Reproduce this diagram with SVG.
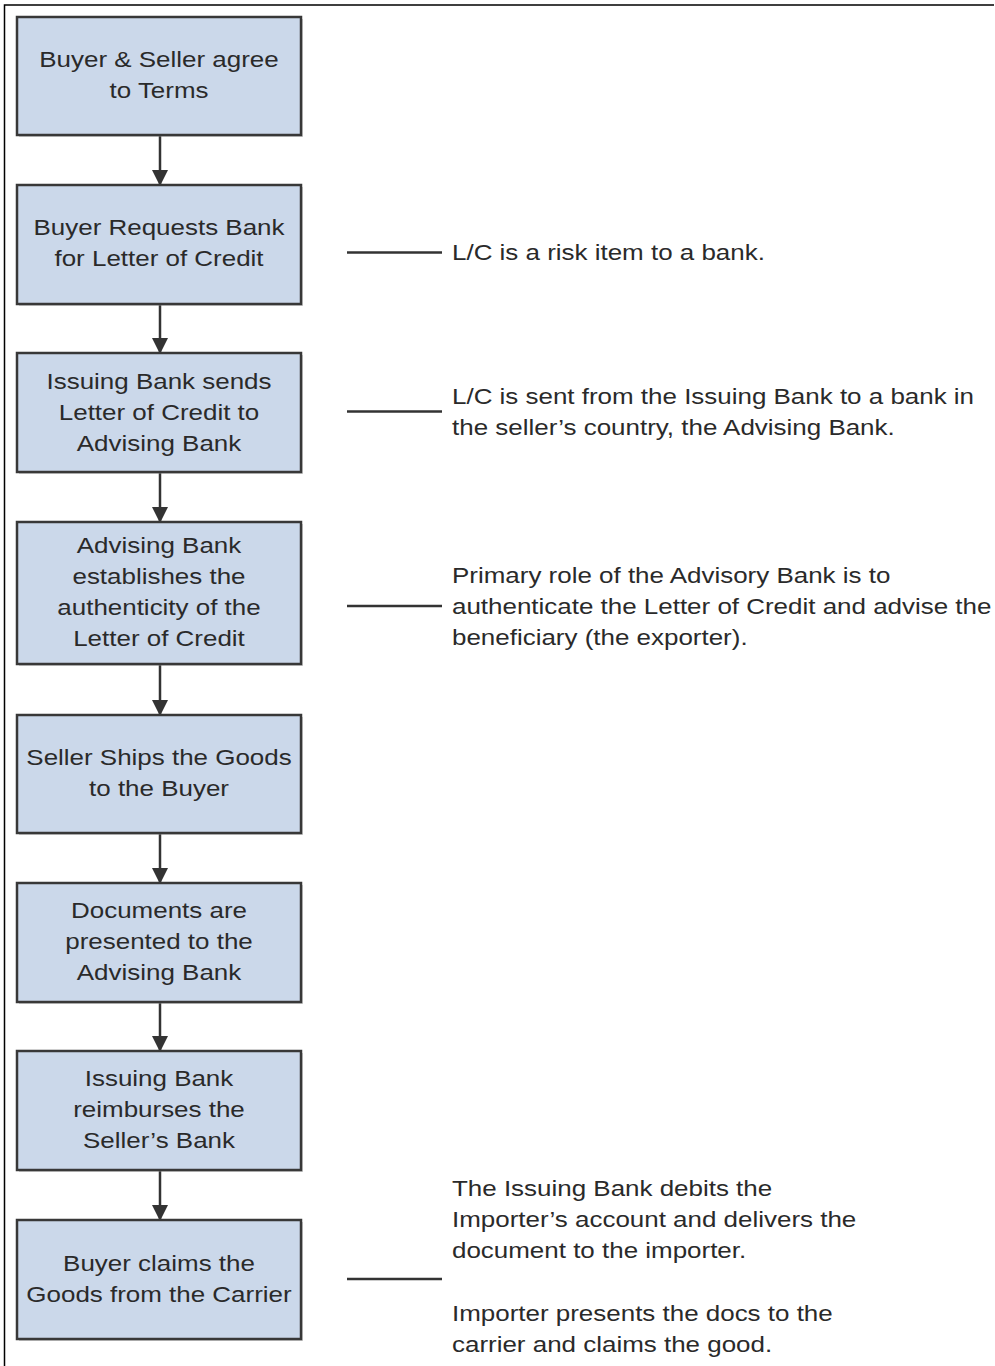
<svg xmlns="http://www.w3.org/2000/svg" width="995" height="1366" viewBox="0 0 995 1366">
  <style>
    .box { fill: #CBD8EA; stroke: #383838; stroke-width: 2.5; }
    .shadow { fill: #9a9a9a; opacity: 0.45; }
    .lbl { font-family: "Liberation Sans", Arial, sans-serif; font-size: 22px; fill: #2a2a2a; text-anchor: middle; }
    .note { font-family: "Liberation Sans", Arial, sans-serif; font-size: 22px; fill: #2a2a2a; text-anchor: start; }
    .flow { stroke: #333333; stroke-width: 2.5; fill: none; marker-end: url(#arrow); }
    .lead { stroke: #333333; stroke-width: 2.5; fill: none; }
    .frame { stroke: #000000; stroke-width: 1.5; fill: none; }
  </style>
  <defs>
    <marker id="arrow" markerWidth="16" markerHeight="16" refX="15" refY="8" orient="auto" markerUnits="userSpaceOnUse">
      <path d="M0,0 L16,8 L0,16 Z" fill="#333333"/>
    </marker>
  </defs>

  <rect width="995" height="1366" fill="#ffffff"/>
  <!-- page frame: top and left edges -->
  <path class="frame" d="M4.5,1366 V5 H994"/>

  <!-- connectors -->
  <g id="connectors">
    <line class="flow" x1="160" y1="135" x2="160" y2="185"/>
    <line class="flow" x1="160" y1="304" x2="160" y2="353"/>
    <line class="flow" x1="160" y1="472" x2="160" y2="522"/>
    <line class="flow" x1="160" y1="664" x2="160" y2="715"/>
    <line class="flow" x1="160" y1="833" x2="160" y2="883"/>
    <line class="flow" x1="160" y1="1002" x2="160" y2="1051"/>
    <line class="flow" x1="160" y1="1170" x2="160" y2="1220"/>
    <line class="lead" x1="347" y1="252.5" x2="442" y2="252.5"/>
    <line class="lead" x1="347" y1="411.5" x2="442" y2="411.5"/>
    <line class="lead" x1="347" y1="606" x2="442" y2="606"/>
    <line class="lead" x1="347" y1="1279" x2="442" y2="1279"/>
  </g>

  <!-- process steps -->
  <g id="step1">
    <rect class="shadow" x="19" y="19" width="284" height="118"/>
    <rect class="box" x="17" y="17" width="284" height="118"/>
    <text class="lbl" transform="translate(159 0) scale(1.18 1)"><tspan x="0" y="67">Buyer &amp; Seller agree</tspan><tspan x="0" y="98">to Terms</tspan></text>
  </g>
  <g id="step2">
    <rect class="shadow" x="19" y="187" width="284" height="119"/>
    <rect class="box" x="17" y="185" width="284" height="119"/>
    <text class="lbl" transform="translate(159 0) scale(1.18 1)"><tspan x="0" y="235">Buyer Requests Bank</tspan><tspan x="0" y="266">for Letter of Credit</tspan></text>
  </g>
  <g id="step3">
    <rect class="shadow" x="19" y="355" width="284" height="119"/>
    <rect class="box" x="17" y="353" width="284" height="119"/>
    <text class="lbl" transform="translate(159 0) scale(1.18 1)"><tspan x="0" y="389">Issuing Bank sends</tspan><tspan x="0" y="420">Letter of Credit to</tspan><tspan x="0" y="451">Advising Bank</tspan></text>
  </g>
  <g id="step4">
    <rect class="shadow" x="19" y="524" width="284" height="142"/>
    <rect class="box" x="17" y="522" width="284" height="142"/>
    <text class="lbl" transform="translate(159 0) scale(1.18 1)"><tspan x="0" y="553">Advising Bank</tspan><tspan x="0" y="584">establishes the</tspan><tspan x="0" y="615">authenticity of the</tspan><tspan x="0" y="646">Letter of Credit</tspan></text>
  </g>
  <g id="step5">
    <rect class="shadow" x="19" y="717" width="284" height="118"/>
    <rect class="box" x="17" y="715" width="284" height="118"/>
    <text class="lbl" transform="translate(159 0) scale(1.18 1)"><tspan x="0" y="765">Seller Ships the Goods</tspan><tspan x="0" y="796">to the Buyer</tspan></text>
  </g>
  <g id="step6">
    <rect class="shadow" x="19" y="885" width="284" height="119"/>
    <rect class="box" x="17" y="883" width="284" height="119"/>
    <text class="lbl" transform="translate(159 0) scale(1.18 1)"><tspan x="0" y="918">Documents are</tspan><tspan x="0" y="949">presented to the</tspan><tspan x="0" y="980">Advising Bank</tspan></text>
  </g>
  <g id="step7">
    <rect class="shadow" x="19" y="1053" width="284" height="119"/>
    <rect class="box" x="17" y="1051" width="284" height="119"/>
    <text class="lbl" transform="translate(159 0) scale(1.18 1)"><tspan x="0" y="1086">Issuing Bank</tspan><tspan x="0" y="1117">reimburses the</tspan><tspan x="0" y="1148">Seller’s Bank</tspan></text>
  </g>
  <g id="step8">
    <rect class="shadow" x="19" y="1222" width="284" height="119"/>
    <rect class="box" x="17" y="1220" width="284" height="119"/>
    <text class="lbl" transform="translate(159 0) scale(1.18 1)"><tspan x="0" y="1271">Buyer claims the</tspan><tspan x="0" y="1302">Goods from the Carrier</tspan></text>
  </g>

  <!-- side notes -->
  <g id="note1">
    <text class="note" transform="translate(452 0) scale(1.18 1)"><tspan x="0" y="260">L/C is a risk item to a bank.</tspan></text>
  </g>
  <g id="note2">
    <text class="note" transform="translate(452 0) scale(1.18 1)"><tspan x="0" y="404">L/C is sent from the Issuing Bank to a bank in</tspan><tspan x="0" y="435">the seller’s country, the Advising Bank.</tspan></text>
  </g>
  <g id="note3">
    <text class="note" transform="translate(452 0) scale(1.18 1)"><tspan x="0" y="583">Primary role of the Advisory Bank is to</tspan><tspan x="0" y="614">authenticate the Letter of Credit and advise the</tspan><tspan x="0" y="645">beneficiary (the exporter).</tspan></text>
  </g>
  <g id="note4">
    <text class="note" transform="translate(452 0) scale(1.18 1)"><tspan x="0" y="1196">The Issuing Bank debits the</tspan><tspan x="0" y="1227">Importer’s account and delivers the</tspan><tspan x="0" y="1258">document to the importer.</tspan><tspan x="0" y="1321">Importer presents the docs to the</tspan><tspan x="0" y="1352">carrier and claims the good.</tspan></text>
  </g>
</svg>
